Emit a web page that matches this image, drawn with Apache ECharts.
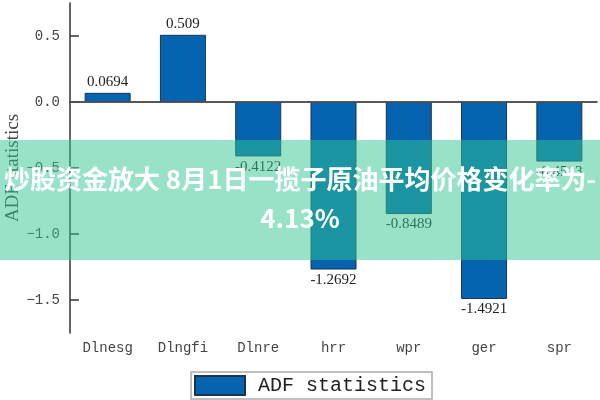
<!DOCTYPE html>
<html>
<head>
<meta charset="utf-8">
<script src="https://cdn.jsdelivr.net/npm/echarts@6/dist/echarts.min.js"></script>
<style>html,body{margin:0;padding:0;background:#fff}#c{width:600px;height:400px}</style>
</head>
<body>
<div id="c"></div>
<script>
const categories = ['Dlnesg', 'Dlngfi', 'Dlnre', 'hrr', 'wpr', 'ger', 'spr'];
const adfValues = [0.0694, 0.509, -0.4122, -1.2692, -0.8489, -1.4921, -0.4513];
const yTicks = [-1.5, -1.0, -0.5, 0, 0.5];
const seriesName = 'ADF statistics';
const overlayLine1 = '炒股资金放大 8月1日一揽子原油平均价格变化率为-';
const overlayLine2 = '4.13%';

const chart = echarts.init(document.getElementById('c'), null, {renderer: 'canvas'});
chart.setOption({
  backgroundColor: '#fff',
  animation: false,
  grid: {left: 70, right: 3, top: 3, bottom: 67, containLabel: false, outerBoundsMode: 'none'},
  legend: {
    data: [{name: seriesName, icon: 'rect'}],
    left: 191, top: 372,
    borderColor: '#aaa', borderWidth: 1.5,
    padding: [3, 6, 3, 3],
    itemWidth: 50, itemHeight: 19, itemGap: 10,
    textStyle: {fontFamily: 'Liberation Mono', fontSize: 20, color: '#222', padding: [0, 0, 0, 8]}
  },
  xAxis: {
    type: 'category',
    data: categories,
    axisLine: {lineStyle: {color: '#333', width: 1.5}},
    axisTick: {inside: true, length: 6, alignWithLabel: true, lineStyle: {color: '#333', width: 1.5}},
    axisLabel: {fontFamily: 'Liberation Mono', fontSize: 14, color: '#444', margin: 8}
  },
  yAxis: {
    type: 'value',
    min: -1.75, max: 0.75,
    name: 'ADF statistics',
    nameLocation: 'middle',
    nameGap: 47,
    nameMoveOverlap: false,
    nameTextStyle: {fontFamily: 'Liberation Serif', fontSize: 19, color: '#444'},
    splitLine: {show: false},
    axisLine: {show: true, lineStyle: {color: '#333', width: 1.5}},
    axisTick: {show: true, inside: true, length: 9, customValues: yTicks, lineStyle: {color: '#333', width: 1.5}},
    axisLabel: {
      customValues: yTicks,
      fontFamily: 'Liberation Mono', fontSize: 14, color: '#444', margin: 10,
      formatter: v => v.toFixed(1).replace('-', '\u2212')
    }
  },
  series: [{
    name: seriesName,
    type: 'bar',
    data: adfValues,
    barWidth: 46,
    itemStyle: {color: '#0563b0', borderColor: '#1b3550', borderWidth: 1},
    label: {
      show: true,
      position: 'outside',
      fontFamily: 'Liberation Serif', fontSize: 15, color: '#222',
      distance: 3,
      formatter: p => String(p.value)
    },
    markLine: {
      silent: true, symbol: 'none', label: {show: false},
      lineStyle: {color: '#555', width: 1.5, type: 'solid'},
      data: [{yAxis: 0}]
    }
  }],
  graphic: [
    {type: 'rect', left: 0, top: 140, shape: {width: 600, height: 120}, style: {fill: 'rgba(49,199,145,0.5)'}, z: 100},
    {type: 'text', left: 'center', top: 166, style: {text: overlayLine1, fill: '#fff', font: 'bold 26px "Noto Sans CJK SC"'}, z: 101},
    {type: 'text', left: 'center', top: 205, style: {text: overlayLine2, fill: '#fff', font: 'bold 26px "Noto Sans CJK SC"'}, z: 101}
  ]
});
</script>
</body>
</html>
